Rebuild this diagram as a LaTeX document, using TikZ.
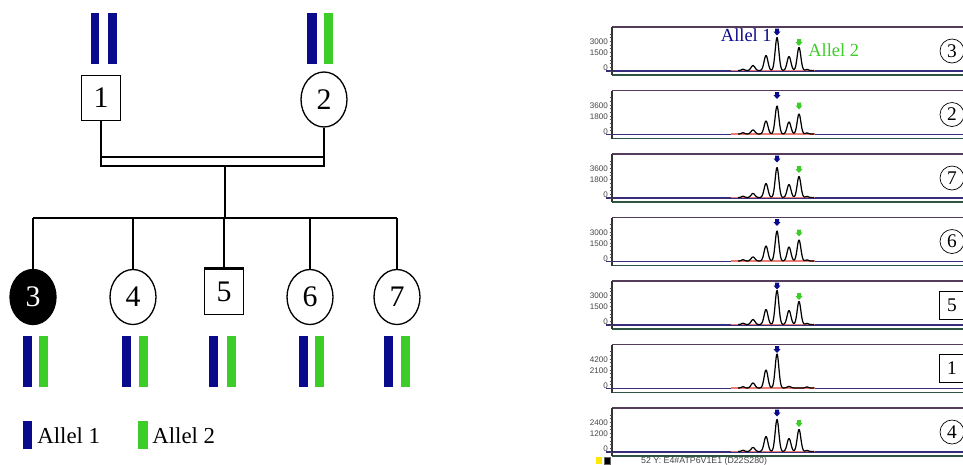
\documentclass[tikz,border=0pt]{standalone}
\usepackage{fontspec}
\setmainfont{Liberation Serif}
\setsansfont{Liberation Sans}
\usetikzlibrary{shapes.geometric,positioning,calc}
\definecolor{alblue}{RGB}{10,10,140}
\definecolor{algreen}{RGB}{60,205,40}
\definecolor{frametop}{RGB}{85,60,90}
\definecolor{framebase}{RGB}{55,45,125}
\definecolor{framebot}{RGB}{45,85,65}
\definecolor{peakred}{RGB}{235,125,115}
\definecolor{ticklab}{RGB}{70,70,70}
\tikzset{
  male/.style={draw, line width=0.75pt, minimum width=0.78cm, minimum height=0.9cm,
               inner sep=0pt, font=\fontsize{17}{17}\selectfont},
  female/.style={draw, ellipse, line width=0.75pt, minimum width=0.92cm, minimum height=1.1cm,
                 inner sep=0pt, font=\fontsize{17}{17}\selectfont},
  affected/.style={fill=black, text=white},
  pedline/.style={line width=0.75pt},
  allele/.style={fill=#1},
  legendtxt/.style={font=\fontsize{13}{13}\selectfont, inner sep=0pt},
  eplabcirc/.style={draw, circle, minimum size=0.48cm, inner sep=0pt, thin,
                    font=\fontsize{11}{11}\selectfont},
  eplabbox/.style={draw, minimum width=0.52cm, minimum height=0.56cm, inner sep=0pt, thin,
                   font=\fontsize{11}{11}\selectfont},
  alleltxt/.style={font=\fontsize{10.5}{10.5}\selectfont, inner sep=0pt},
  trace/.style={black, line width=0.7pt, line join=round},
  tickfont/.style={font=\sffamily\fontsize{4.6}{4.6}\selectfont, text=ticklab, inner sep=0.5pt},
  pics/dnarrow/.style={code={
    \fill[#1] (-2,0) -- (2,0) -- (2,3) -- (3.6,3) -- (0,7) -- (-3.6,3) -- (-2,3) -- cycle;}},
}
% one electropherogram trace: #1 baseline, #2..#6 peaks at 753/766/777/789/799
\newcommand{\eptrace}[6]{%
  \draw[trace] plot[domain=738:814, samples=170]
    (\x, {#1 - 1.2*exp(-((\x-743)/2.2)^2) - #2*exp(-((\x-753)/2.7)^2)
              - #3*exp(-((\x-766)/2.7)^2) - #4*exp(-((\x-777)/2.6)^2)
              - #5*exp(-((\x-789)/2.7)^2) - #6*exp(-((\x-799)/2.6)^2)
              - 1*exp(-((\x-807)/2.2)^2)});
}

\begin{document}
\begin{tikzpicture}[x=0.02cm, y=-0.02cm]
\clip (0,0) rectangle (963,464);
\fill[white] (0,0) rectangle (963,464);

% --- Pedigree: parents ---
\node[male] (p1) at (101,98) {1};
\node[female] (p2) at (324,99.5) {2};
\fill[allele=alblue] (91,13) rectangle (99,64);
\fill[allele=alblue] (108,13) rectangle (117,64);
\fill[allele=alblue] (307,13) rectangle (317,64);
\fill[allele=algreen] (324,13) rectangle (333,64);

% mating line (double) and line of descent
\coordinate (mate) at (214,157);
\coordinate (mateLow) at (214,166);
\coordinate (sib) at (225,218);
\draw[pedline] (p1.south) -- (p1.south |- mate) -- (p2.south |- mate) -- (p2.south);
\draw[pedline] (p1.south |- mate) -- (p1.south |- mateLow) -- (p2.south |- mateLow) -- (p2.south |- mate);
\draw[pedline] (sib |- mateLow) -- (sib);

% --- Pedigree: children ---
\node[female, affected] (c3) at (33,297) {3};
\node[female] (c4) at (133,297) {4};
\node[male] (c5) at (224,292) {5};
\node[female] (c6) at (310,297) {6};
\node[female] (c7) at (397,297) {7};
\draw[line width=1.6pt] (c5.north west) -- (c5.north east);
\draw[pedline] (c3.north |- sib) -- (c7.north |- sib);
\foreach \c in {c3,c4,c5,c6,c7}
  \draw[pedline] (\c.north |- sib) -- (\c.north);

% child alleles
\foreach \xa/\xb in {27/43, 126.5/143, 213.5/231, 303/319.5, 388.5/405.5} {
  \fill[allele=alblue] (\xa-4.5,336) rectangle (\xa+4.5,387);
  \fill[allele=algreen] (\xb-4.5,336) rectangle (\xb+4.5,387);
}

% legend
\fill[allele=alblue] (23,421) rectangle (32,449);
\node[legendtxt, anchor=west] (leg1) at (37,436) {Allel 1};
\fill[allele=algreen] (138,421) rectangle (148,449);
\node[legendtxt, anchor=west] (leg2) at (152,436) {Allel 2};

% --- Electropherograms, one panel per person ---
\foreach \lab/\t/\ya/\yb/\ha/\hb/\hc/\hd/\he/\g/\lshape in {
    3/27/3000/1500/5/15/33/14/23/1/eplabcirc,
    2/90.5/3600/1800/4/13/28/12/20/1/eplabcirc,
    7/154/3600/1800/4/14/30/13/21/1/eplabcirc,
    6/217.5/3000/1500/4/15/30/14/21/1/eplabcirc,
    5/281/3000/1500/5/15/34/14/23/1/eplabbox,
    1/344.5/4200/2100/5/18/34/1.5/0/0/eplabbox,
    4/408/2400/1200/4/15/32/13/22/1/eplabcirc} {
  % frame
  \draw[frametop, line width=0.9pt] (612,\t) -- (975,\t);
  \draw[framebase, line width=0.9pt] (606,\t+44) -- (975,\t+44);
  \draw[framebot, line width=0.9pt] (612,\t+48) -- (975,\t+48);
  \draw[black!80, line width=0.8pt] (612,\t) -- (612,\t+48);
  % y axis
  \foreach \k in {0,...,10}
    \draw[black!70, line width=0.4pt] (609.5,\t+7+3.7*\k) -- (612,\t+7+3.7*\k);
  \node[tickfont, anchor=east] (ya\lab) at (609,\t+15) {\ya};
  \node[tickfont, anchor=east] (yb\lab) at (609,\t+26) {\yb};
  \node[tickfont, anchor=east] (yz\lab) at (609,\t+41) {0};
  % peaks
  \draw[peakred, line width=0.6pt] (731,\t+43.5) -- (815,\t+43.5);
  \eptrace{\t+43.5}{\ha}{\hb}{\hc}{\hd}{\he}
  \pic at (777,\t+1.5) {dnarrow=alblue};
  \ifnum\g=1 \pic at (799,\t+12) {dnarrow=algreen}; \fi
  \node[\lshape] (lab\lab) at (952,\t+24) {\lab};
}
\node[alleltxt, text=alblue, anchor=east] (allA) at (772,35) {Allel 1};
\node[alleltxt, text=algreen, anchor=west] (allB) at (808,50) {Allel 2};

% run info strip
\fill[yellow!90!orange] (596,457) rectangle (602,464);
\draw[black!60, fill=black] (604,457) rectangle (610,464);
\node[tickfont, anchor=west, font=\sffamily\fontsize{5}{5}\selectfont] (runinfo) at (640,461) {52 Y: E4\#ATP6V1E1 (D22S280)};
\end{tikzpicture}
\end{document}
